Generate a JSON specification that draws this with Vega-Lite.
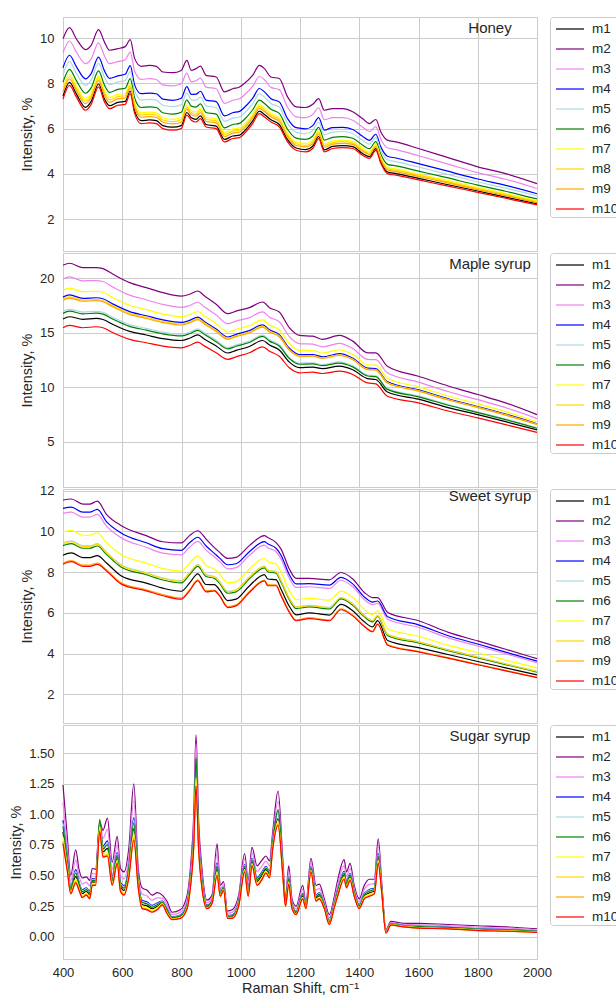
{
"$schema": "https://vega.github.io/schema/vega-lite/v6.json",
"padding": {"left": 8, "top": 16, "right": 0, "bottom": 0},
"background": "white",
"spacing": 2,
"bounds": "flush",
"config": {
 "font": "Liberation Sans",
 "view": {"stroke": "#cccccc", "strokeWidth": 1},
 "axis": {"grid": true, "gridColor": "#cccccc", "gridWidth": 1, "domain": false, "ticks": false, "tickSize": 0, "labelFontSize": 13, "labelColor": "#262626", "labelPadding": 9, "titleFontSize": 14.5, "titleColor": "#262626", "titleFontWeight": "normal", "titlePadding": 5, "labelFont": "Liberation Sans", "titleFont": "Liberation Sans", "labelFlush": false},
 "legend": {"orient": "right", "offset": 10, "padding": 1, "strokeColor": "#cccccc", "fillColor": "white", "cornerRadius": 3, "symbolType": "M-1.4,0H1.4", "symbolSize": 400, "symbolStrokeWidth": 1.5, "symbolOffset": 8, "labelFontSize": 13.5, "labelColor": "#262626", "labelOffset": 11, "rowPadding": 2, "labelFont": "Liberation Sans"},
 "title": {"anchor": "middle", "frame": "group", "dx": 190, "offset": -19, "baseline": "alphabetic", "fontSize": 15, "fontWeight": "normal", "color": "#262626", "font": "Liberation Sans"},
 "line": {"strokeWidth": 1.2, "interpolate": "monotone"}
},
"datasets": {
"honey": [
{"x":400,"m1":7.43,"m2":9.97,"m3":9.36,"m4":8.69,"m5":8.39,"m6":8.05,"m7":7.81,"m8":7.70,"m9":7.59,"m10":7.30},
{"x":422,"m1":8.04,"m2":10.46,"m3":9.87,"m4":9.24,"m5":8.96,"m6":8.62,"m7":8.39,"m8":8.29,"m9":8.19,"m10":7.91},
{"x":445,"m1":7.53,"m2":9.97,"m3":9.38,"m4":8.74,"m5":8.45,"m6":8.12,"m7":7.89,"m8":7.79,"m9":7.68,"m10":7.40},
{"x":476,"m1":6.94,"m2":9.49,"m3":8.87,"m4":8.20,"m5":7.91,"m6":7.56,"m7":7.32,"m8":7.21,"m9":7.10,"m10":6.81},
{"x":495,"m1":7.20,"m2":9.68,"m3":9.08,"m4":8.43,"m5":8.14,"m6":7.80,"m7":7.57,"m8":7.46,"m9":7.36,"m10":7.07},
{"x":520,"m1":7.97,"m2":10.37,"m3":9.79,"m4":9.16,"m5":8.88,"m6":8.55,"m7":8.32,"m8":8.22,"m9":8.12,"m10":7.84},
{"x":540,"m1":7.31,"m2":9.82,"m3":9.21,"m4":8.55,"m5":8.26,"m6":7.92,"m7":7.68,"m8":7.58,"m9":7.47,"m10":7.18},
{"x":557,"m1":7.01,"m2":9.46,"m3":8.87,"m4":8.22,"m5":7.94,"m6":7.60,"m7":7.37,"m8":7.27,"m9":7.16,"m10":6.88},
{"x":585,"m1":7.16,"m2":9.53,"m3":8.96,"m4":8.33,"m5":8.06,"m6":7.73,"m7":7.51,"m8":7.41,"m9":7.31,"m10":7.03},
{"x":610,"m1":7.20,"m2":9.62,"m3":9.03,"m4":8.40,"m5":8.12,"m6":7.78,"m7":7.55,"m8":7.45,"m9":7.35,"m10":7.07},
{"x":627,"m1":7.66,"m2":9.93,"m3":9.38,"m4":8.78,"m5":8.52,"m6":8.21,"m7":7.99,"m8":7.90,"m9":7.80,"m10":7.54},
{"x":642,"m1":6.78,"m2":9.09,"m3":8.53,"m4":7.92,"m5":7.66,"m6":7.34,"m7":7.12,"m8":7.02,"m9":6.93,"m10":6.66},
{"x":664,"m1":6.35,"m2":8.75,"m3":8.17,"m4":7.54,"m5":7.26,"m6":6.93,"m7":6.70,"m8":6.60,"m9":6.50,"m10":6.22},
{"x":692,"m1":6.38,"m2":8.79,"m3":8.21,"m4":7.57,"m5":7.29,"m6":6.96,"m7":6.73,"m8":6.63,"m9":6.53,"m10":6.25},
{"x":715,"m1":6.35,"m2":8.75,"m3":8.17,"m4":7.54,"m5":7.26,"m6":6.93,"m7":6.70,"m8":6.60,"m9":6.50,"m10":6.22},
{"x":737,"m1":6.13,"m2":8.50,"m3":7.93,"m4":7.30,"m5":7.03,"m6":6.70,"m7":6.48,"m8":6.38,"m9":6.28,"m10":6.00},
{"x":771,"m1":6.06,"m2":8.47,"m3":7.89,"m4":7.25,"m5":6.97,"m6":6.64,"m7":6.41,"m8":6.31,"m9":6.21,"m10":5.93},
{"x":799,"m1":6.13,"m2":8.57,"m3":7.98,"m4":7.34,"m5":7.05,"m6":6.72,"m7":6.49,"m8":6.39,"m9":6.28,"m10":6.00},
{"x":818,"m1":6.71,"m2":9.01,"m3":8.45,"m4":7.85,"m5":7.58,"m6":7.27,"m7":7.05,"m8":6.95,"m9":6.86,"m10":6.59},
{"x":833,"m1":6.48,"m2":8.57,"m3":8.06,"m4":7.51,"m5":7.27,"m6":6.99,"m7":6.79,"m8":6.70,"m9":6.61,"m10":6.37},
{"x":849,"m1":6.41,"m2":8.65,"m3":8.11,"m4":7.52,"m5":7.26,"m6":6.95,"m7":6.74,"m8":6.64,"m9":6.55,"m10":6.29},
{"x":864,"m1":6.56,"m2":8.76,"m3":8.23,"m4":7.65,"m5":7.39,"m6":7.09,"m7":6.88,"m8":6.79,"m9":6.70,"m10":6.44},
{"x":883,"m1":6.18,"m2":8.35,"m3":7.83,"m4":7.26,"m5":7.00,"m6":6.71,"m7":6.50,"m8":6.41,"m9":6.32,"m10":6.07},
{"x":917,"m1":6.11,"m2":8.28,"m3":7.76,"m4":7.19,"m5":6.93,"m6":6.64,"m7":6.43,"m8":6.34,"m9":6.25,"m10":6.00},
{"x":945,"m1":5.52,"m2":7.62,"m3":7.11,"m4":6.56,"m5":6.32,"m6":6.03,"m7":5.83,"m8":5.74,"m9":5.65,"m10":5.41},
{"x":973,"m1":5.67,"m2":7.76,"m3":7.25,"m4":6.70,"m5":6.46,"m6":6.18,"m7":5.98,"m8":5.89,"m9":5.80,"m10":5.56},
{"x":996,"m1":5.71,"m2":7.84,"m3":7.32,"m4":6.76,"m5":6.52,"m6":6.23,"m7":6.03,"m8":5.94,"m9":5.85,"m10":5.60},
{"x":1012,"m1":5.89,"m2":7.99,"m3":7.48,"m4":6.93,"m5":6.69,"m6":6.40,"m7":6.20,"m8":6.11,"m9":6.02,"m10":5.78},
{"x":1040,"m1":6.33,"m2":8.35,"m3":7.86,"m4":7.33,"m5":7.09,"m6":6.82,"m7":6.62,"m8":6.54,"m9":6.45,"m10":6.22},
{"x":1063,"m1":6.77,"m2":8.79,"m3":8.30,"m4":7.77,"m5":7.53,"m6":7.26,"m7":7.06,"m8":6.98,"m9":6.89,"m10":6.66},
{"x":1080,"m1":6.62,"m2":8.65,"m3":8.16,"m4":7.62,"m5":7.39,"m6":7.11,"m7":6.92,"m8":6.83,"m9":6.75,"m10":6.51},
{"x":1102,"m1":6.39,"m2":8.28,"m3":7.82,"m4":7.32,"m5":7.11,"m6":6.85,"m7":6.67,"m8":6.59,"m9":6.51,"m10":6.29},
{"x":1130,"m1":6.18,"m2":8.21,"m3":7.72,"m4":7.18,"m5":6.95,"m6":6.67,"m7":6.48,"m8":6.39,"m9":6.31,"m10":6.07},
{"x":1158,"m1":5.51,"m2":7.40,"m3":6.94,"m4":6.44,"m5":6.23,"m6":5.97,"m7":5.79,"m8":5.71,"m9":5.63,"m10":5.41},
{"x":1187,"m1":5.14,"m2":6.96,"m3":6.52,"m4":6.04,"m5":5.83,"m6":5.58,"m7":5.40,"m8":5.33,"m9":5.25,"m10":5.04},
{"x":1220,"m1":5.07,"m2":6.93,"m3":6.48,"m4":5.99,"m5":5.77,"m6":5.52,"m7":5.34,"m8":5.26,"m9":5.19,"m10":4.97},
{"x":1243,"m1":5.22,"m2":7.07,"m3":6.62,"m4":6.13,"m5":5.92,"m6":5.67,"m7":5.49,"m8":5.41,"m9":5.33,"m10":5.12},
{"x":1263,"m1":5.65,"m2":7.32,"m3":6.92,"m4":6.48,"m5":6.28,"m6":6.05,"m7":5.89,"m8":5.82,"m9":5.75,"m10":5.56},
{"x":1282,"m1":5.06,"m2":6.81,"m3":6.39,"m4":5.93,"m5":5.72,"m6":5.49,"m7":5.32,"m8":5.25,"m9":5.17,"m10":4.97},
{"x":1310,"m1":5.21,"m2":6.88,"m3":6.48,"m4":6.04,"m5":5.84,"m6":5.61,"m7":5.45,"m8":5.38,"m9":5.31,"m10":5.12},
{"x":1344,"m1":5.25,"m2":6.88,"m3":6.48,"m4":6.05,"m5":5.87,"m6":5.64,"m7":5.49,"m8":5.42,"m9":5.35,"m10":5.16},
{"x":1378,"m1":5.20,"m2":6.74,"m3":6.37,"m4":5.96,"m5":5.78,"m6":5.57,"m7":5.43,"m8":5.36,"m9":5.30,"m10":5.12},
{"x":1411,"m1":4.90,"m2":6.44,"m3":6.07,"m4":5.66,"m5":5.48,"m6":5.27,"m7":5.13,"m8":5.06,"m9":5.00,"m10":4.82},
{"x":1434,"m1":4.76,"m2":6.22,"m3":5.87,"m4":5.48,"m5":5.31,"m6":5.11,"m7":4.97,"m8":4.91,"m9":4.85,"m10":4.68},
{"x":1456,"m1":5.11,"m2":6.40,"m3":6.09,"m4":5.75,"m5":5.60,"m6":5.42,"m7":5.30,"m8":5.24,"m9":5.19,"m10":5.04},
{"x":1473,"m1":4.53,"m2":5.85,"m3":5.53,"m4":5.18,"m5":5.03,"m6":4.85,"m7":4.72,"m8":4.67,"m9":4.61,"m10":4.46},
{"x":1495,"m1":4.08,"m2":5.49,"m3":5.15,"m4":4.78,"m5":4.62,"m6":4.42,"m7":4.29,"m8":4.23,"m9":4.17,"m10":4.01},
{"x":1524,"m1":4.01,"m2":5.41,"m3":5.07,"m4":4.70,"m5":4.54,"m6":4.35,"m7":4.22,"m8":4.16,"m9":4.10,"m10":3.94},
{"x":1600,"m1":3.80,"m2":5.12,"m3":4.80,"m4":4.45,"m5":4.30,"m6":4.12,"m7":3.99,"m8":3.94,"m9":3.88,"m10":3.73},
{"x":1692,"m1":3.54,"m2":4.75,"m3":4.46,"m4":4.14,"m5":4.00,"m6":3.84,"m7":3.72,"m8":3.67,"m9":3.62,"m10":3.48},
{"x":1800,"m1":3.24,"m2":4.31,"m3":4.05,"m4":3.77,"m5":3.64,"m6":3.50,"m7":3.39,"m8":3.35,"m9":3.30,"m10":3.18},
{"x":1894,"m1":2.97,"m2":4.01,"m3":3.76,"m4":3.49,"m5":3.37,"m6":3.23,"m7":3.13,"m8":3.08,"m9":3.04,"m10":2.92},
{"x":2000,"m1":2.68,"m2":3.57,"m3":3.35,"m4":3.12,"m5":3.02,"m6":2.89,"m7":2.81,"m8":2.77,"m9":2.73,"m10":2.63}
],
"maple": [
{"x":400,"m1":16.26,"m2":21.20,"m3":19.94,"m4":18.27,"m5":16.95,"m6":16.78,"m7":18.90,"m8":18.10,"m9":17.99,"m10":15.46},
{"x":422,"m1":16.47,"m2":21.38,"m3":20.12,"m4":18.47,"m5":17.15,"m6":16.98,"m7":19.10,"m8":18.30,"m9":18.18,"m10":15.67},
{"x":467,"m1":16.23,"m2":20.98,"m3":19.77,"m4":18.16,"m5":16.90,"m6":16.73,"m7":18.77,"m8":18.00,"m9":17.89,"m10":15.46},
{"x":512,"m1":16.31,"m2":20.98,"m3":19.79,"m4":18.21,"m5":16.96,"m6":16.80,"m7":18.81,"m8":18.05,"m9":17.94,"m10":15.55},
{"x":535,"m1":16.22,"m2":20.89,"m3":19.70,"m4":18.12,"m5":16.87,"m6":16.71,"m7":18.72,"m8":17.96,"m9":17.85,"m10":15.46},
{"x":569,"m1":15.75,"m2":20.37,"m3":19.19,"m4":17.63,"m5":16.40,"m6":16.24,"m7":18.22,"m8":17.47,"m9":17.36,"m10":15.00},
{"x":625,"m1":15.12,"m2":19.60,"m3":18.45,"m4":16.94,"m5":15.74,"m6":15.59,"m7":17.52,"m8":16.79,"m9":16.68,"m10":14.39},
{"x":681,"m1":14.79,"m2":19.14,"m3":18.03,"m4":16.56,"m5":15.40,"m6":15.24,"m7":17.12,"m8":16.41,"m9":16.31,"m10":14.08},
{"x":737,"m1":14.46,"m2":18.68,"m3":17.60,"m4":16.18,"m5":15.05,"m6":14.90,"m7":16.72,"m8":16.03,"m9":15.93,"m10":13.77},
{"x":799,"m1":14.29,"m2":18.37,"m3":17.33,"m4":15.95,"m5":14.86,"m6":14.71,"m7":16.47,"m8":15.81,"m9":15.71,"m10":13.62},
{"x":827,"m1":14.49,"m2":18.53,"m3":17.50,"m4":16.13,"m5":15.05,"m6":14.91,"m7":16.65,"m8":15.99,"m9":15.90,"m10":13.83},
{"x":855,"m1":14.80,"m2":18.83,"m3":17.80,"m4":16.44,"m5":15.36,"m6":15.22,"m7":16.95,"m8":16.30,"m9":16.20,"m10":14.14},
{"x":878,"m1":14.41,"m2":18.37,"m3":17.36,"m4":16.02,"m5":14.97,"m6":14.83,"m7":16.53,"m8":15.89,"m9":15.79,"m10":13.77},
{"x":917,"m1":13.78,"m2":17.61,"m3":16.63,"m4":15.34,"m5":14.32,"m6":14.18,"m7":15.83,"m8":15.21,"m9":15.12,"m10":13.16},
{"x":956,"m1":13.14,"m2":16.75,"m3":15.83,"m4":14.61,"m5":13.64,"m6":13.52,"m7":15.07,"m8":14.48,"m9":14.40,"m10":12.55},
{"x":984,"m1":13.38,"m2":16.99,"m3":16.07,"m4":14.85,"m5":13.88,"m6":13.76,"m7":15.31,"m8":14.72,"m9":14.64,"m10":12.79},
{"x":1029,"m1":13.74,"m2":17.30,"m3":16.39,"m4":15.19,"m5":14.24,"m6":14.11,"m7":15.64,"m8":15.06,"m9":14.98,"m10":13.16},
{"x":1074,"m1":14.29,"m2":17.82,"m3":16.92,"m4":15.72,"m5":14.78,"m6":14.66,"m7":16.18,"m8":15.60,"m9":15.52,"m10":13.71},
{"x":1097,"m1":13.87,"m2":17.30,"m3":16.42,"m4":15.27,"m5":14.35,"m6":14.23,"m7":15.70,"m8":15.15,"m9":15.07,"m10":13.31},
{"x":1130,"m1":13.42,"m2":16.90,"m3":16.01,"m4":14.83,"m5":13.90,"m6":13.78,"m7":15.28,"m8":14.71,"m9":14.63,"m10":12.85},
{"x":1164,"m1":12.30,"m2":15.46,"m3":14.65,"m4":13.58,"m5":12.74,"m6":12.63,"m7":13.99,"m8":13.47,"m9":13.40,"m10":11.78},
{"x":1198,"m1":11.80,"m2":14.75,"m3":14.00,"m4":13.00,"m5":12.21,"m6":12.11,"m7":13.38,"m8":12.90,"m9":12.83,"m10":11.32},
{"x":1243,"m1":11.84,"m2":14.69,"m3":13.96,"m4":13.00,"m5":12.24,"m6":12.14,"m7":13.37,"m8":12.90,"m9":12.84,"m10":11.38},
{"x":1276,"m1":11.70,"m2":14.39,"m3":13.70,"m4":12.79,"m5":12.07,"m6":11.98,"m7":13.14,"m8":12.70,"m9":12.64,"m10":11.26},
{"x":1333,"m1":11.93,"m2":14.75,"m3":14.03,"m4":13.08,"m5":12.32,"m6":12.22,"m7":13.44,"m8":12.98,"m9":12.91,"m10":11.47},
{"x":1378,"m1":11.60,"m2":14.23,"m3":13.56,"m4":12.67,"m5":11.97,"m6":11.87,"m7":13.01,"m8":12.58,"m9":12.52,"m10":11.17},
{"x":1428,"m1":10.79,"m2":13.16,"m3":12.55,"m4":11.75,"m5":11.12,"m6":11.03,"m7":12.06,"m8":11.67,"m9":11.61,"m10":10.40},
{"x":1456,"m1":10.71,"m2":13.16,"m3":12.53,"m4":11.71,"m5":11.05,"m6":10.97,"m7":12.02,"m8":11.62,"m9":11.56,"m10":10.31},
{"x":1495,"m1":9.56,"m2":11.93,"m3":11.32,"m4":10.52,"m5":9.89,"m6":9.80,"m7":10.83,"m8":10.44,"m9":10.38,"m10":9.17},
{"x":1600,"m1":8.90,"m2":11.01,"m3":10.47,"m4":9.76,"m5":9.20,"m6":9.12,"m7":10.03,"m8":9.69,"m9":9.64,"m10":8.56},
{"x":1703,"m1":8.11,"m2":10.09,"m3":9.58,"m4":8.92,"m5":8.39,"m6":8.32,"m7":9.17,"m8":8.85,"m9":8.80,"m10":7.79},
{"x":1800,"m1":7.48,"m2":9.33,"m3":8.86,"m4":8.23,"m5":7.74,"m6":7.67,"m7":8.47,"m8":8.17,"m9":8.13,"m10":7.18},
{"x":1894,"m1":6.84,"m2":8.56,"m3":8.12,"m4":7.54,"m5":7.08,"m6":7.02,"m7":7.76,"m8":7.48,"m9":7.44,"m10":6.56},
{"x":2000,"m1":6.09,"m2":7.48,"m3":7.12,"m4":6.65,"m5":6.28,"m6":6.23,"m7":6.83,"m8":6.61,"m9":6.57,"m10":5.86}
],
"sweet": [
{"x":400,"m1":8.83,"m2":11.54,"m3":10.88,"m4":11.13,"m5":9.43,"m6":9.30,"m7":9.97,"m8":9.40,"m9":8.45,"m10":8.39},
{"x":428,"m1":8.94,"m2":11.59,"m3":10.94,"m4":11.19,"m5":9.53,"m6":9.40,"m7":10.05,"m8":9.50,"m9":8.57,"m10":8.51},
{"x":467,"m1":8.71,"m2":11.34,"m3":10.70,"m4":10.94,"m5":9.29,"m6":9.17,"m7":9.81,"m8":9.26,"m9":8.34,"m10":8.28},
{"x":490,"m1":8.71,"m2":11.34,"m3":10.70,"m4":10.94,"m5":9.29,"m6":9.17,"m7":9.81,"m8":9.26,"m9":8.34,"m10":8.28},
{"x":516,"m1":8.81,"m2":11.48,"m3":10.83,"m4":11.08,"m5":9.40,"m6":9.28,"m7":9.93,"m8":9.37,"m9":8.44,"m10":8.38},
{"x":546,"m1":8.46,"m2":10.85,"m3":10.27,"m4":10.49,"m5":8.99,"m6":8.88,"m7":9.46,"m8":8.96,"m9":8.13,"m10":8.07},
{"x":597,"m1":7.81,"m2":10.28,"m3":9.68,"m4":9.91,"m5":8.36,"m6":8.24,"m7":8.85,"m8":8.33,"m9":7.47,"m10":7.41},
{"x":681,"m1":7.46,"m2":9.79,"m3":9.22,"m4":9.44,"m5":7.97,"m6":7.87,"m7":8.44,"m8":7.95,"m9":7.13,"m10":7.08},
{"x":737,"m1":7.21,"m2":9.49,"m3":8.93,"m4":9.15,"m5":7.71,"m6":7.61,"m7":8.17,"m8":7.69,"m9":6.89,"m10":6.84},
{"x":799,"m1":7.06,"m2":9.43,"m3":8.85,"m4":9.07,"m5":7.58,"m6":7.47,"m7":8.05,"m8":7.55,"m9":6.73,"m10":6.67},
{"x":827,"m1":7.46,"m2":9.79,"m3":9.22,"m4":9.44,"m5":7.97,"m6":7.87,"m7":8.44,"m8":7.95,"m9":7.13,"m10":7.08},
{"x":855,"m1":7.91,"m2":10.03,"m3":9.51,"m4":9.71,"m5":8.38,"m6":8.28,"m7":8.80,"m8":8.36,"m9":7.62,"m10":7.57},
{"x":883,"m1":7.39,"m2":9.62,"m3":9.08,"m4":9.28,"m5":7.88,"m6":7.78,"m7":8.33,"m8":7.86,"m9":7.08,"m10":7.03},
{"x":911,"m1":7.38,"m2":9.20,"m3":8.75,"m4":8.92,"m5":7.78,"m6":7.69,"m7":8.14,"m8":7.76,"m9":7.12,"m10":7.08},
{"x":928,"m1":7.14,"m2":8.98,"m3":8.53,"m4":8.70,"m5":7.55,"m6":7.46,"m7":7.91,"m8":7.52,"m9":6.88,"m10":6.84},
{"x":956,"m1":6.60,"m2":8.67,"m3":8.16,"m4":8.36,"m5":7.06,"m6":6.96,"m7":7.47,"m8":7.03,"m9":6.31,"m10":6.26},
{"x":984,"m1":6.67,"m2":8.72,"m3":8.22,"m4":8.41,"m5":7.13,"m6":7.03,"m7":7.53,"m8":7.10,"m9":6.39,"m10":6.34},
{"x":1029,"m1":7.32,"m2":9.30,"m3":8.82,"m4":9.00,"m5":7.76,"m6":7.67,"m7":8.15,"m8":7.74,"m9":7.05,"m10":7.00},
{"x":1080,"m1":7.88,"m2":9.79,"m3":9.32,"m4":9.50,"m5":8.30,"m6":8.21,"m7":8.68,"m8":8.28,"m9":7.61,"m10":7.57},
{"x":1091,"m1":7.66,"m2":9.70,"m3":9.20,"m4":9.39,"m5":8.11,"m6":8.02,"m7":8.52,"m8":8.09,"m9":7.38,"m10":7.33},
{"x":1119,"m1":7.63,"m2":9.45,"m3":9.00,"m4":9.17,"m5":8.03,"m6":7.94,"m7":8.39,"m8":8.01,"m9":7.37,"m10":7.33},
{"x":1136,"m1":7.16,"m2":9.13,"m3":8.65,"m4":8.83,"m5":7.60,"m6":7.50,"m7":7.99,"m8":7.57,"m9":6.89,"m10":6.84},
{"x":1164,"m1":6.32,"m2":8.15,"m3":7.70,"m4":7.87,"m5":6.72,"m6":6.64,"m7":7.09,"m8":6.70,"m9":6.06,"m10":6.02},
{"x":1187,"m1":5.90,"m2":7.69,"m3":7.25,"m4":7.42,"m5":6.30,"m6":6.21,"m7":6.65,"m8":6.28,"m9":5.65,"m10":5.61},
{"x":1231,"m1":6.00,"m2":7.69,"m3":7.28,"m4":7.43,"m5":6.37,"m6":6.29,"m7":6.71,"m8":6.35,"m9":5.76,"m10":5.72},
{"x":1299,"m1":5.89,"m2":7.62,"m3":7.20,"m4":7.36,"m5":6.27,"m6":6.19,"m7":6.62,"m8":6.25,"m9":5.65,"m10":5.61},
{"x":1338,"m1":6.41,"m2":7.98,"m3":7.60,"m4":7.74,"m5":6.75,"m6":6.68,"m7":7.07,"m8":6.74,"m9":6.19,"m10":6.15},
{"x":1378,"m1":6.10,"m2":7.66,"m3":7.28,"m4":7.42,"m5":6.45,"m6":6.37,"m7":6.76,"m8":6.43,"m9":5.89,"m10":5.85},
{"x":1417,"m1":5.56,"m2":7.00,"m3":6.65,"m4":6.78,"m5":5.88,"m6":5.81,"m7":6.17,"m8":5.86,"m9":5.36,"m10":5.33},
{"x":1445,"m1":5.31,"m2":6.75,"m3":6.40,"m4":6.53,"m5":5.62,"m6":5.56,"m7":5.91,"m8":5.61,"m9":5.10,"m10":5.07},
{"x":1462,"m1":5.62,"m2":6.75,"m3":6.47,"m4":6.58,"m5":5.87,"m6":5.82,"m7":6.10,"m8":5.86,"m9":5.47,"m10":5.44},
{"x":1496,"m1":4.64,"m2":6.02,"m3":5.68,"m4":5.81,"m5":4.94,"m6":4.88,"m7":5.22,"m8":4.93,"m9":4.44,"m10":4.41},
{"x":1600,"m1":4.29,"m2":5.61,"m3":5.29,"m4":5.41,"m5":4.58,"m6":4.52,"m7":4.85,"m8":4.57,"m9":4.11,"m10":4.08},
{"x":1703,"m1":3.94,"m2":5.03,"m3":4.76,"m4":4.86,"m5":4.18,"m6":4.13,"m7":4.40,"m8":4.17,"m9":3.79,"m10":3.76},
{"x":1800,"m1":3.61,"m2":4.62,"m3":4.37,"m4":4.47,"m5":3.84,"m6":3.79,"m7":4.04,"m8":3.82,"m9":3.47,"m10":3.45},
{"x":1894,"m1":3.30,"m2":4.21,"m3":3.99,"m4":4.07,"m5":3.50,"m6":3.46,"m7":3.68,"m8":3.49,"m9":3.17,"m10":3.15},
{"x":2000,"m1":2.95,"m2":3.75,"m3":3.55,"m4":3.63,"m5":3.13,"m6":3.09,"m7":3.29,"m8":3.12,"m9":2.84,"m10":2.82}
],
"sugar": [
{"x":400,"m1":0.856,"m2":1.24,"m3":1.096,"m4":0.952,"m5":0.928,"m6":0.904,"m7":0.818,"m8":0.784,"m9":0.770,"m10":0.76},
{"x":415,"m1":0.584,"m2":0.80,"m3":0.719,"m4":0.638,"m5":0.625,"m6":0.611,"m7":0.562,"m8":0.544,"m9":0.535,"m10":0.53},
{"x":426,"m1":0.38,"m2":0.50,"m3":0.455,"m4":0.41,"m5":0.403,"m6":0.395,"m7":0.368,"m8":0.358,"m9":0.353,"m10":0.35},
{"x":443,"m1":0.494,"m2":0.71,"m3":0.629,"m4":0.548,"m5":0.535,"m6":0.521,"m7":0.472,"m8":0.454,"m9":0.445,"m10":0.44},
{"x":454,"m1":0.414,"m2":0.55,"m3":0.499,"m4":0.448,"m5":0.44,"m6":0.431,"m7":0.40,"m8":0.389,"m9":0.383,"m10":0.38},
{"x":465,"m1":0.352,"m2":0.48,"m3":0.432,"m4":0.384,"m5":0.376,"m6":0.368,"m7":0.339,"m8":0.328,"m9":0.323,"m10":0.32},
{"x":479,"m1":0.37,"m2":0.49,"m3":0.445,"m4":0.40,"m5":0.393,"m6":0.385,"m7":0.358,"m8":0.348,"m9":0.343,"m10":0.34},
{"x":490,"m1":0.34,"m2":0.46,"m3":0.415,"m4":0.37,"m5":0.363,"m6":0.355,"m7":0.328,"m8":0.318,"m9":0.313,"m10":0.31},
{"x":499,"m1":0.448,"m2":0.56,"m3":0.518,"m4":0.476,"m5":0.469,"m6":0.462,"m7":0.437,"m8":0.427,"m9":0.423,"m10":0.42},
{"x":510,"m1":0.446,"m2":0.55,"m3":0.511,"m4":0.472,"m5":0.466,"m6":0.459,"m7":0.436,"m8":0.427,"m9":0.423,"m10":0.42},
{"x":524,"m1":0.89,"m2":0.94,"m3":0.95,"m4":0.93,"m5":0.93,"m6":0.96,"m7":0.90,"m8":0.88,"m9":0.87,"m10":0.86},
{"x":535,"m1":0.694,"m2":0.87,"m3":0.804,"m4":0.738,"m5":0.727,"m6":0.716,"m7":0.676,"m8":0.661,"m9":0.654,"m10":0.65},
{"x":550,"m1":0.722,"m2":0.97,"m3":0.877,"m4":0.784,"m5":0.769,"m6":0.753,"m7":0.697,"m8":0.676,"m9":0.666,"m10":0.66},
{"x":566,"m1":0.458,"m2":0.61,"m3":0.553,"m4":0.496,"m5":0.487,"m6":0.477,"m7":0.443,"m8":0.43,"m9":0.424,"m10":0.42},
{"x":583,"m1":0.644,"m2":0.82,"m3":0.754,"m4":0.688,"m5":0.677,"m6":0.666,"m7":0.626,"m8":0.611,"m9":0.604,"m10":0.60},
{"x":594,"m1":0.408,"m2":0.56,"m3":0.503,"m4":0.446,"m5":0.437,"m6":0.427,"m7":0.393,"m8":0.38,"m9":0.374,"m10":0.37},
{"x":606,"m1":0.378,"m2":0.53,"m3":0.473,"m4":0.416,"m5":0.407,"m6":0.397,"m7":0.363,"m8":0.35,"m9":0.344,"m10":0.34},
{"x":622,"m1":0.528,"m2":0.72,"m3":0.648,"m4":0.576,"m5":0.564,"m6":0.552,"m7":0.509,"m8":0.492,"m9":0.485,"m10":0.48},
{"x":639,"m1":0.882,"m2":1.25,"m3":1.112,"m4":0.974,"m5":0.951,"m6":0.928,"m7":0.845,"m8":0.813,"m9":0.799,"m10":0.79},
{"x":654,"m1":0.432,"m2":0.56,"m3":0.512,"m4":0.464,"m5":0.456,"m6":0.448,"m7":0.419,"m8":0.408,"m9":0.403,"m10":0.40},
{"x":667,"m1":0.264,"m2":0.40,"m3":0.349,"m4":0.298,"m5":0.29,"m6":0.281,"m7":0.25,"m8":0.239,"m9":0.233,"m10":0.23},
{"x":684,"m1":0.252,"m2":0.38,"m3":0.332,"m4":0.284,"m5":0.276,"m6":0.268,"m7":0.239,"m8":0.228,"m9":0.223,"m10":0.22},
{"x":701,"m1":0.228,"m2":0.34,"m3":0.298,"m4":0.256,"m5":0.249,"m6":0.242,"m7":0.217,"m8":0.207,"m9":0.203,"m10":0.20},
{"x":718,"m1":0.248,"m2":0.36,"m3":0.318,"m4":0.276,"m5":0.269,"m6":0.262,"m7":0.237,"m8":0.227,"m9":0.223,"m10":0.22},
{"x":735,"m1":0.276,"m2":0.34,"m3":0.316,"m4":0.292,"m5":0.288,"m6":0.284,"m7":0.27,"m8":0.264,"m9":0.262,"m10":0.26},
{"x":751,"m1":0.21,"m2":0.29,"m3":0.26,"m4":0.23,"m5":0.225,"m6":0.22,"m7":0.202,"m8":0.195,"m9":0.192,"m10":0.19},
{"x":768,"m1":0.152,"m2":0.20,"m3":0.182,"m4":0.164,"m5":0.161,"m6":0.158,"m7":0.147,"m8":0.143,"m9":0.141,"m10":0.14},
{"x":796,"m1":0.164,"m2":0.22,"m3":0.199,"m4":0.178,"m5":0.175,"m6":0.171,"m7":0.158,"m8":0.154,"m9":0.151,"m10":0.15},
{"x":819,"m1":0.252,"m2":0.34,"m3":0.307,"m4":0.274,"m5":0.269,"m6":0.263,"m7":0.243,"m8":0.236,"m9":0.232,"m10":0.23},
{"x":830,"m1":0.432,"m2":0.56,"m3":0.512,"m4":0.464,"m5":0.456,"m6":0.448,"m7":0.419,"m8":0.408,"m9":0.403,"m10":0.40},
{"x":841,"m1":0.772,"m2":0.98,"m3":0.902,"m4":0.824,"m5":0.811,"m6":0.798,"m7":0.751,"m8":0.733,"m9":0.725,"m10":0.72},
{"x":849,"m1":1.31,"m2":1.65,"m3":1.58,"m4":1.45,"m5":1.44,"m6":1.46,"m7":1.30,"m8":1.27,"m9":1.24,"m10":1.23},
{"x":858,"m1":0.748,"m2":0.94,"m3":0.868,"m4":0.796,"m5":0.784,"m6":0.772,"m7":0.729,"m8":0.712,"m9":0.705,"m10":0.70},
{"x":869,"m1":0.432,"m2":0.56,"m3":0.512,"m4":0.464,"m5":0.456,"m6":0.448,"m7":0.419,"m8":0.408,"m9":0.403,"m10":0.40},
{"x":886,"m1":0.244,"m2":0.30,"m3":0.279,"m4":0.258,"m5":0.255,"m6":0.251,"m7":0.238,"m8":0.234,"m9":0.231,"m10":0.23},
{"x":903,"m1":0.284,"m2":0.34,"m3":0.319,"m4":0.298,"m5":0.295,"m6":0.291,"m7":0.278,"m8":0.274,"m9":0.271,"m10":0.27},
{"x":920,"m1":0.552,"m2":0.76,"m3":0.682,"m4":0.604,"m5":0.591,"m6":0.578,"m7":0.531,"m8":0.513,"m9":0.505,"m10":0.50},
{"x":931,"m1":0.348,"m2":0.42,"m3":0.393,"m4":0.366,"m5":0.362,"m6":0.357,"m7":0.341,"m8":0.335,"m9":0.332,"m10":0.33},
{"x":942,"m1":0.394,"m2":0.45,"m3":0.429,"m4":0.408,"m5":0.405,"m6":0.401,"m7":0.388,"m8":0.384,"m9":0.381,"m10":0.38},
{"x":955,"m1":0.162,"m2":0.21,"m3":0.192,"m4":0.174,"m5":0.171,"m6":0.168,"m7":0.157,"m8":0.153,"m9":0.151,"m10":0.15},
{"x":971,"m1":0.164,"m2":0.22,"m3":0.199,"m4":0.178,"m5":0.175,"m6":0.171,"m7":0.158,"m8":0.154,"m9":0.151,"m10":0.15},
{"x":993,"m1":0.268,"m2":0.34,"m3":0.313,"m4":0.286,"m5":0.282,"m6":0.277,"m7":0.261,"m8":0.255,"m9":0.252,"m10":0.25},
{"x":1013,"m1":0.56,"m2":0.68,"m3":0.635,"m4":0.59,"m5":0.583,"m6":0.575,"m7":0.548,"m8":0.538,"m9":0.533,"m10":0.53},
{"x":1025,"m1":0.356,"m2":0.46,"m3":0.421,"m4":0.382,"m5":0.376,"m6":0.369,"m7":0.346,"m8":0.337,"m9":0.333,"m10":0.33},
{"x":1038,"m1":0.61,"m2":0.73,"m3":0.685,"m4":0.64,"m5":0.633,"m6":0.625,"m7":0.598,"m8":0.588,"m9":0.583,"m10":0.58},
{"x":1055,"m1":0.452,"m2":0.58,"m3":0.532,"m4":0.484,"m5":0.476,"m6":0.468,"m7":0.439,"m8":0.428,"m9":0.423,"m10":0.42},
{"x":1070,"m1":0.492,"m2":0.62,"m3":0.572,"m4":0.524,"m5":0.516,"m6":0.508,"m7":0.479,"m8":0.468,"m9":0.463,"m10":0.46},
{"x":1085,"m1":0.548,"m2":0.66,"m3":0.618,"m4":0.576,"m5":0.569,"m6":0.562,"m7":0.537,"m8":0.527,"m9":0.523,"m10":0.52},
{"x":1097,"m1":0.508,"m2":0.62,"m3":0.578,"m4":0.536,"m5":0.529,"m6":0.522,"m7":0.497,"m8":0.487,"m9":0.483,"m10":0.48},
{"x":1108,"m1":0.748,"m2":0.86,"m3":0.818,"m4":0.776,"m5":0.769,"m6":0.762,"m7":0.737,"m8":0.727,"m9":0.723,"m10":0.72},
{"x":1126,"m1":0.966,"m2":1.19,"m3":1.106,"m4":1.03,"m5":1.02,"m6":1.04,"m7":0.944,"m8":0.924,"m9":0.916,"m10":0.91},
{"x":1142,"m1":0.526,"m2":0.63,"m3":0.591,"m4":0.552,"m5":0.546,"m6":0.539,"m7":0.516,"m8":0.507,"m9":0.503,"m10":0.50},
{"x":1151,"m1":0.264,"m2":0.32,"m3":0.299,"m4":0.278,"m5":0.275,"m6":0.271,"m7":0.258,"m8":0.254,"m9":0.251,"m10":0.25},
{"x":1162,"m1":0.46,"m2":0.58,"m3":0.535,"m4":0.49,"m5":0.483,"m6":0.475,"m7":0.448,"m8":0.438,"m9":0.433,"m10":0.43},
{"x":1173,"m1":0.246,"m2":0.31,"m3":0.286,"m4":0.262,"m5":0.258,"m6":0.254,"m7":0.24,"m8":0.234,"m9":0.232,"m10":0.23},
{"x":1187,"m1":0.194,"m2":0.25,"m3":0.229,"m4":0.208,"m5":0.205,"m6":0.201,"m7":0.188,"m8":0.184,"m9":0.181,"m10":0.18},
{"x":1209,"m1":0.332,"m2":0.42,"m3":0.387,"m4":0.354,"m5":0.349,"m6":0.343,"m7":0.323,"m8":0.316,"m9":0.312,"m10":0.31},
{"x":1220,"m1":0.24,"m2":0.28,"m3":0.265,"m4":0.25,"m5":0.248,"m6":0.245,"m7":0.236,"m8":0.233,"m9":0.231,"m10":0.23},
{"x":1237,"m1":0.552,"m2":0.64,"m3":0.607,"m4":0.574,"m5":0.569,"m6":0.563,"m7":0.543,"m8":0.536,"m9":0.532,"m10":0.53},
{"x":1254,"m1":0.316,"m2":0.42,"m3":0.381,"m4":0.342,"m5":0.336,"m6":0.329,"m7":0.306,"m8":0.297,"m9":0.293,"m10":0.29},
{"x":1265,"m1":0.334,"m2":0.43,"m3":0.394,"m4":0.358,"m5":0.352,"m6":0.346,"m7":0.324,"m8":0.316,"m9":0.312,"m10":0.31},
{"x":1282,"m1":0.246,"m2":0.31,"m3":0.286,"m4":0.262,"m5":0.258,"m6":0.254,"m7":0.24,"m8":0.234,"m9":0.232,"m10":0.23},
{"x":1299,"m1":0.116,"m2":0.18,"m3":0.156,"m4":0.132,"m5":0.128,"m6":0.124,"m7":0.11,"m8":0.104,"m9":0.102,"m10":0.10},
{"x":1316,"m1":0.258,"m2":0.33,"m3":0.303,"m4":0.276,"m5":0.272,"m6":0.267,"m7":0.251,"m8":0.245,"m9":0.242,"m10":0.24},
{"x":1327,"m1":0.356,"m2":0.46,"m3":0.421,"m4":0.382,"m5":0.376,"m6":0.369,"m7":0.346,"m8":0.337,"m9":0.333,"m10":0.33},
{"x":1349,"m1":0.502,"m2":0.63,"m3":0.582,"m4":0.534,"m5":0.526,"m6":0.518,"m7":0.489,"m8":0.478,"m9":0.473,"m10":0.47},
{"x":1357,"m1":0.426,"m2":0.53,"m3":0.491,"m4":0.452,"m5":0.446,"m6":0.439,"m7":0.416,"m8":0.407,"m9":0.403,"m10":0.40},
{"x":1369,"m1":0.488,"m2":0.60,"m3":0.558,"m4":0.516,"m5":0.509,"m6":0.502,"m7":0.477,"m8":0.467,"m9":0.463,"m10":0.46},
{"x":1383,"m1":0.348,"m2":0.42,"m3":0.393,"m4":0.366,"m5":0.362,"m6":0.357,"m7":0.341,"m8":0.335,"m9":0.332,"m10":0.33},
{"x":1400,"m1":0.246,"m2":0.31,"m3":0.286,"m4":0.262,"m5":0.258,"m6":0.254,"m7":0.24,"m8":0.234,"m9":0.232,"m10":0.23},
{"x":1417,"m1":0.332,"m2":0.42,"m3":0.387,"m4":0.354,"m5":0.349,"m6":0.343,"m7":0.323,"m8":0.316,"m9":0.312,"m10":0.31},
{"x":1434,"m1":0.358,"m2":0.47,"m3":0.428,"m4":0.386,"m5":0.379,"m6":0.372,"m7":0.347,"m8":0.337,"m9":0.333,"m10":0.33},
{"x":1451,"m1":0.374,"m2":0.47,"m3":0.434,"m4":0.398,"m5":0.392,"m6":0.386,"m7":0.364,"m8":0.356,"m9":0.352,"m10":0.35},
{"x":1464,"m1":0.64,"m2":0.80,"m3":0.74,"m4":0.68,"m5":0.67,"m6":0.66,"m7":0.624,"m8":0.61,"m9":0.604,"m10":0.60},
{"x":1476,"m1":0.376,"m2":0.44,"m3":0.416,"m4":0.392,"m5":0.388,"m6":0.384,"m7":0.37,"m8":0.364,"m9":0.362,"m10":0.36},
{"x":1490,"m1":0.036,"m2":0.06,"m3":0.051,"m4":0.042,"m5":0.041,"m6":0.039,"m7":0.034,"m8":0.032,"m9":0.031,"m10":0.03},
{"x":1507,"m1":0.101,"m2":0.125,"m3":0.116,"m4":0.107,"m5":0.106,"m6":0.104,"m7":0.099,"m8":0.097,"m9":0.096,"m10":0.095},
{"x":1550,"m1":0.086,"m2":0.11,"m3":0.101,"m4":0.092,"m5":0.091,"m6":0.089,"m7":0.084,"m8":0.082,"m9":0.081,"m10":0.08},
{"x":1600,"m1":0.078,"m2":0.11,"m3":0.098,"m4":0.086,"m5":0.084,"m6":0.082,"m7":0.075,"m8":0.072,"m9":0.071,"m10":0.07},
{"x":1700,"m1":0.072,"m2":0.10,"m3":0.09,"m4":0.079,"m5":0.077,"m6":0.076,"m7":0.069,"m8":0.067,"m9":0.066,"m10":0.065},
{"x":1800,"m1":0.058,"m2":0.09,"m3":0.078,"m4":0.066,"m5":0.064,"m6":0.062,"m7":0.055,"m8":0.052,"m9":0.051,"m10":0.05},
{"x":1900,"m1":0.052,"m2":0.08,"m3":0.07,"m4":0.059,"m5":0.057,"m6":0.056,"m7":0.049,"m8":0.047,"m9":0.046,"m10":0.045},
{"x":2000,"m1":0.041,"m2":0.065,"m3":0.056,"m4":0.047,"m5":0.046,"m6":0.044,"m7":0.039,"m8":0.037,"m9":0.036,"m10":0.035}
]
},
"vconcat": [
{
 "width": 474, "height": 234,
 "data": {"name": "honey"},
 "transform": [{"fold": ["m1","m2","m3","m4","m5","m6","m7","m8","m9","m10"], "as": ["series","value"]}],
 "title": {"text": "Honey"},
 "mark": {"type": "line", "strokeWidth": 1.2, "interpolate": "monotone"},
 "encoding": {
  "x": {"field": "x", "type": "quantitative", "scale": {"domain": [400,2000], "nice": false}, "axis": {"values": [400,600,800,1000,1200,1400,1600,1800,2000], "labels": false, "title": null}},
  "y": {"field": "value", "type": "quantitative", "scale": {"domain": [0.59,10.93], "nice": false, "zero": false}, "axis": {"values": [2,4,6,8,10], "title": "Intensity, %"}},
  "color": {"field": "series", "type": "nominal", "scale": {"domain": ["m1","m2","m3","m4","m5","m6","m7","m8","m9","m10"], "range": ["#000000","#800080","#ee82ee","#0000ff","#add8e6","#008000","#ffff00","#ffd700","#ffa500","#ff0000"]}, "legend": {"title": null}}
 }
},
{
 "width": 474, "height": 234,
 "data": {"name": "maple"},
 "transform": [{"fold": ["m1","m2","m3","m4","m5","m6","m7","m8","m9","m10"], "as": ["series","value"]}],
 "title": {"text": "Maple syrup"},
 "mark": {"type": "line", "strokeWidth": 1.2, "interpolate": "monotone"},
 "encoding": {
  "x": {"field": "x", "type": "quantitative", "scale": {"domain": [400,2000], "nice": false}, "axis": {"values": [400,600,800,1000,1200,1400,1600,1800,2000], "labels": false, "title": null}},
  "y": {"field": "value", "type": "quantitative", "scale": {"domain": [0.84,22.32], "nice": false, "zero": false}, "axis": {"values": [5,10,15,20], "title": "Intensity, %"}},
  "color": {"field": "series", "type": "nominal", "scale": {"domain": ["m1","m2","m3","m4","m5","m6","m7","m8","m9","m10"], "range": ["#000000","#800080","#ee82ee","#0000ff","#add8e6","#008000","#ffff00","#ffd700","#ffa500","#ff0000"]}, "legend": {"title": null}}
 }
},
{
 "width": 474, "height": 234,
 "data": {"name": "sweet"},
 "transform": [{"fold": ["m1","m2","m3","m4","m5","m6","m7","m8","m9","m10"], "as": ["series","value"]}],
 "title": {"text": "Sweet syrup"},
 "mark": {"type": "line", "strokeWidth": 1.2, "interpolate": "monotone"},
 "encoding": {
  "x": {"field": "x", "type": "quantitative", "scale": {"domain": [400,2000], "nice": false}, "axis": {"values": [400,600,800,1000,1200,1400,1600,1800,2000], "labels": false, "title": null}},
  "y": {"field": "value", "type": "quantitative", "scale": {"domain": [0.59,12.08], "nice": false, "zero": false}, "axis": {"values": [2,4,6,8,10,12], "title": "Intensity, %"}},
  "color": {"field": "series", "type": "nominal", "scale": {"domain": ["m1","m2","m3","m4","m5","m6","m7","m8","m9","m10"], "range": ["#000000","#800080","#ee82ee","#0000ff","#add8e6","#008000","#ffff00","#ffd700","#ffa500","#ff0000"]}, "legend": {"title": null}}
 }
},
{
 "width": 474, "height": 234,
 "data": {"name": "sugar"},
 "transform": [{"fold": ["m1","m2","m3","m4","m5","m6","m7","m8","m9","m10"], "as": ["series","value"]}],
 "title": {"text": "Sugar syrup"},
 "mark": {"type": "line", "strokeWidth": 1.2, "interpolate": "monotone"},
 "encoding": {
  "x": {"field": "x", "type": "quantitative", "scale": {"domain": [400,2000], "nice": false}, "axis": {"values": [400,600,800,1000,1200,1400,1600,1800,2000], "format": "d", "title": "Raman Shift, cm⁻¹", "labelPadding": 7, "titlePadding": 2}},
  "y": {"field": "value", "type": "quantitative", "scale": {"domain": [-0.182,1.731], "nice": false, "zero": false}, "axis": {"values": [0,0.25,0.5,0.75,1,1.25,1.5], "format": ".2f", "title": "Intensity, %"}},
  "color": {"field": "series", "type": "nominal", "scale": {"domain": ["m1","m2","m3","m4","m5","m6","m7","m8","m9","m10"], "range": ["#000000","#800080","#ee82ee","#0000ff","#add8e6","#008000","#ffff00","#ffd700","#ffa500","#ff0000"]}, "legend": {"title": null}}
 }
}
],
"resolve": {"scale": {"y": "independent", "color": "independent"}, "legend": {"color": "independent"}}
}
